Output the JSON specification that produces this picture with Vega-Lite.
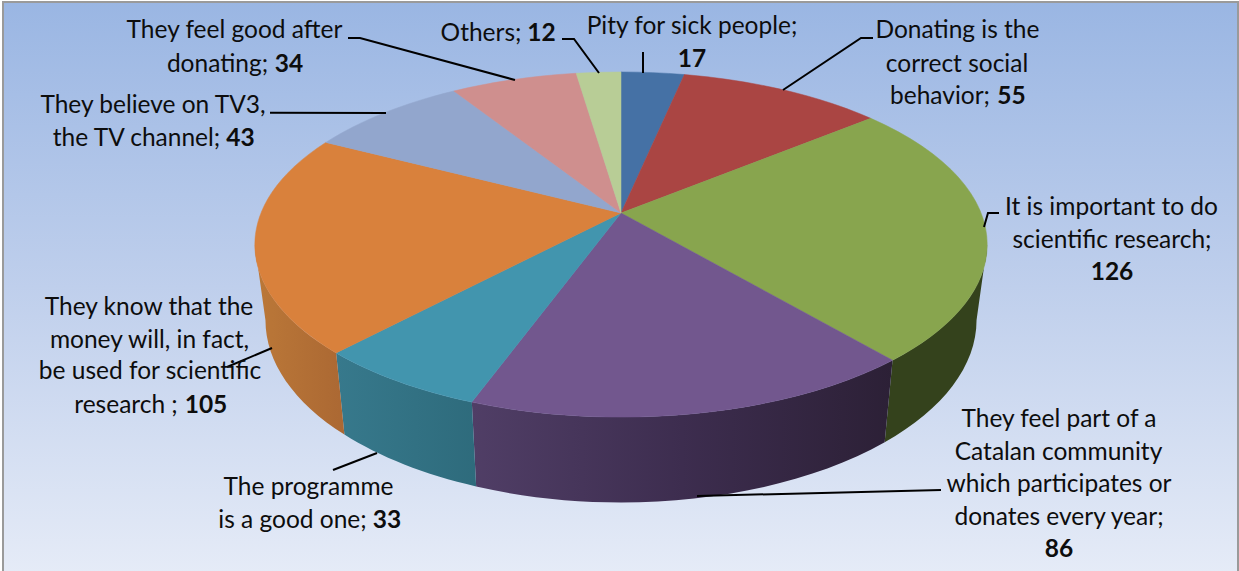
{
  "$schema": "https://vega.github.io/schema/vega-lite/v6.json",
  "width": 1235,
  "height": 570,
  "padding": {"left": 3, "top": 2, "right": 1, "bottom": 0},
  "autosize": {"type": "none"},
  "background": "white",
  "view": {
    "fill": {"gradient": "linear", "x1": 0, "y1": 0, "x2": 0, "y2": 1, "stops": [
      {"offset": 0, "color": "#9ab6e3"},
      {"offset": 0.5, "color": "#bfcfec"},
      {"offset": 1, "color": "#e5ebf7"}
    ]},
    "stroke": "#9a9a9a",
    "strokeWidth": 2
  },
  "datasets": {
    "slices": [
      {"label": "Pity for sick people", "order": 1, "value": 17},
      {"label": "Donating is the correct social behavior", "order": 2, "value": 55},
      {"label": "It is important to do scientific research", "order": 3, "value": 126},
      {"label": "They feel part of a Catalan community", "order": 4, "value": 86},
      {"label": "The programme is a good one", "order": 5, "value": 33},
      {"label": "They know that the money will be used for research", "order": 6, "value": 105},
      {"label": "They believe on TV3, the TV channel", "order": 7, "value": 43},
      {"label": "They feel good after donating", "order": 8, "value": 34},
      {"label": "Others", "order": 9, "value": 12}
    ],
    "leaders": [
      {"id": "good", "step": 1, "x": -273, "y": 175}, {"id": "good", "step": 2, "x": -261, "y": 175}, {"id": "good", "step": 3, "x": -106, "y": 133},
      {"id": "tv3", "step": 1, "x": -351, "y": 100.3}, {"id": "tv3", "step": 2, "x": -235, "y": 100},
      {"id": "others", "step": 1, "x": -59, "y": 174}, {"id": "others", "step": 2, "x": -47, "y": 174}, {"id": "others", "step": 3, "x": -22, "y": 140},
      {"id": "pity", "step": 1, "x": 22, "y": 161}, {"id": "pity", "step": 2, "x": 22, "y": 140},
      {"id": "donating", "step": 1, "x": 252, "y": 175}, {"id": "donating", "step": 2, "x": 240, "y": 175}, {"id": "donating", "step": 3, "x": 162, "y": 123},
      {"id": "research", "step": 1, "x": 378, "y": 0}, {"id": "research", "step": 2, "x": 367, "y": 0}, {"id": "research", "step": 3, "x": 363, "y": -14},
      {"id": "catalan", "step": 1, "x": 320, "y": -277}, {"id": "catalan", "step": 2, "x": 76, "y": -283},
      {"id": "programme", "step": 1, "x": -288, "y": -257}, {"id": "programme", "step": 2, "x": -244, "y": -240},
      {"id": "money", "step": 1, "x": -349, "y": -135}, {"id": "money", "step": 2, "x": -394, "y": -154}
    ],
    "captions": [
      {"t": "They feel good after", "x": -386.5, "y": 175, "bold": false},
      {"t": "donating;", "x": -403.5, "y": 141.5, "bold": false},
      {"t": "34", "x": -332, "y": 141.5, "bold": true},
      {"t": "They believe on TV3,", "x": -468, "y": 100, "bold": false},
      {"t": "the TV channel;", "x": -484.5, "y": 67.5, "bold": false},
      {"t": "43", "x": -380.5, "y": 67.5, "bold": true},
      {"t": "Others;", "x": -140, "y": 172, "bold": false},
      {"t": "12", "x": -79.5, "y": 172, "bold": true},
      {"t": "Pity for sick people;", "x": 71, "y": 179, "bold": false},
      {"t": "17", "x": 71, "y": 146, "bold": true},
      {"t": "Donating is the", "x": 336.5, "y": 175, "bold": false},
      {"t": "correct social", "x": 336, "y": 141, "bold": false},
      {"t": "behavior;", "x": 319, "y": 109, "bold": false},
      {"t": "55", "x": 390.5, "y": 109, "bold": true},
      {"t": "It is important to do", "x": 490.5, "y": -2, "bold": false},
      {"t": "scientific research;", "x": 491, "y": -35, "bold": false},
      {"t": "126", "x": 491, "y": -67, "bold": true},
      {"t": "They know that the", "x": -472, "y": -102, "bold": false},
      {"t": "money will, in fact,", "x": -471.5, "y": -135, "bold": false},
      {"t": "be used for scientific", "x": -471, "y": -166, "bold": false},
      {"t": "research ;", "x": -495, "y": -200, "bold": false},
      {"t": "105", "x": -415, "y": -200, "bold": true},
      {"t": "The programme", "x": -312.5, "y": -282, "bold": false},
      {"t": "is a good one;", "x": -328.5, "y": -315, "bold": false},
      {"t": "33", "x": -234, "y": -315, "bold": true},
      {"t": "They feel part of a", "x": 438, "y": -214, "bold": false},
      {"t": "Catalan community", "x": 437.5, "y": -247, "bold": false},
      {"t": "which participates or", "x": 438, "y": -279, "bold": false},
      {"t": "donates every year;", "x": 438, "y": -312, "bold": false},
      {"t": "86", "x": 438, "y": -344, "bold": true}
    ]
  },
  "layer": [
    {
      "data": {"name": "slices"},
      "transform": [
        {"stack": "value", "sort": [{"field": "order", "order": "ascending"}], "groupby": [], "as": ["v0", "v1"]},
        {"joinaggregate": [{"op": "sum", "field": "value", "as": "total"}]},
        {"calculate": "2 * PI * datum.v0 / datum.total", "as": "a0"},
        {"calculate": "2 * PI * datum.v1 / datum.total", "as": "a1"},
        {"calculate": "round(100 * 360 * sin(datum.a0) / (1 + 0.1826 * cos(datum.a0))) / 100", "as": "tx0"},
        {"calculate": "round(100 * -166.8 * cos(datum.a0) / (1 + 0.1826 * cos(datum.a0))) / 100", "as": "ty0"},
        {"calculate": "round(100 * 360 * sin(datum.a1) / (1 + 0.1826 * cos(datum.a1))) / 100", "as": "tx1"},
        {"calculate": "round(100 * -166.8 * cos(datum.a1) / (1 + 0.1826 * cos(datum.a1))) / 100", "as": "ty1"},
        {"calculate": "'M0,0L' + datum.tx0 + ',' + datum.ty0 + 'A366,172.5 0 0 1 ' + datum.tx1 + ',' + datum.ty1 + 'Z'", "as": "topPath"},
        {"calculate": "max(datum.a0, 1.7544)", "as": "c0"},
        {"calculate": "min(datum.a1, 4.5288)", "as": "c1"},
        {"calculate": "360 * sin(datum.c0) / (1 + 0.1826 * cos(datum.c0))", "as": "wx0"},
        {"calculate": "-166.8 * cos(datum.c0) / (1 + 0.1826 * cos(datum.c0))", "as": "wy0"},
        {"calculate": "360 * sin(datum.c1) / (1 + 0.1826 * cos(datum.c1))", "as": "wx1"},
        {"calculate": "-166.8 * cos(datum.c1) / (1 + 0.1826 * cos(datum.c1))", "as": "wy1"},
        {"calculate": "'M' + round(datum.wx0 * 100) / 100 + ',' + round(datum.wy0 * 100) / 100 + 'A366,172.5 0 0 1 ' + round(datum.wx1 * 100) / 100 + ',' + round(datum.wy1 * 100) / 100 + 'L' + round(97.1 * datum.wx1) / 100 + ',' + round(105.5 * datum.wy1 + 7400) / 100 + 'A355,182 0 0 0 ' + round(97.1 * datum.wx0) / 100 + ',' + round(105.5 * datum.wy0 + 7400) / 100 + 'Z'", "as": "wallPath"}
      ],
      "encoding": {
        "x": {"datum": 0, "type": "quantitative", "scale": {"domain": [-618, 617]}, "axis": null},
        "y": {"datum": 0, "type": "quantitative", "scale": {"domain": [-359, 211]}, "axis": null}
      },
      "layer": [
        {
          "transform": [{"filter": "datum.order == 3"}],
          "mark": {"type": "point", "filled": true, "opacity": 1, "size": 4, "color": "#34421c"},
          "encoding": {"shape": {"field": "wallPath", "type": "nominal", "scale": null, "legend": null}}
        },
        {
          "transform": [{"filter": "datum.order == 4"}],
          "mark": {"type": "point", "filled": true, "opacity": 1, "size": 4, "color": {"gradient": "linear", "x1": 0, "y1": 0, "x2": 1, "y2": 0, "stops": [{"offset": 0, "color": "#503e66"}, {"offset": 0.5, "color": "#3d2d4f"}, {"offset": 1, "color": "#2c2036"}]}},
          "encoding": {"shape": {"field": "wallPath", "type": "nominal", "scale": null, "legend": null}}
        },
        {
          "transform": [{"filter": "datum.order == 5"}],
          "mark": {"type": "point", "filled": true, "opacity": 1, "size": 4, "color": {"gradient": "linear", "x1": 0, "y1": 0, "x2": 1, "y2": 0, "stops": [{"offset": 0, "color": "#37798c"}, {"offset": 1, "color": "#2e6b7c"}]}},
          "encoding": {"shape": {"field": "wallPath", "type": "nominal", "scale": null, "legend": null}}
        },
        {
          "transform": [{"filter": "datum.order == 6"}],
          "mark": {"type": "point", "filled": true, "opacity": 1, "size": 4, "color": {"gradient": "linear", "x1": 0, "y1": 0, "x2": 1, "y2": 0, "stops": [{"offset": 0, "color": "#bb7838"}, {"offset": 1, "color": "#ab6833"}]}},
          "encoding": {"shape": {"field": "wallPath", "type": "nominal", "scale": null, "legend": null}}
        },
        {
          "mark": {"type": "point", "filled": true, "opacity": 1, "size": 4, "strokeWidth": 0.5},
          "encoding": {
            "shape": {"field": "topPath", "type": "nominal", "scale": null, "legend": null},
            "color": {"field": "order", "type": "nominal", "legend": null, "scale": {"domain": [1, 2, 3, 4, 5, 6, 7, 8, 9], "range": ["#4571a5", "#aa4543", "#88a54e", "#72578e", "#4295ae", "#d9813c", "#92a6cd", "#cf8f8e", "#b8cd96"]}},
            "stroke": {"field": "order", "type": "nominal", "legend": null, "scale": {"domain": [1, 2, 3, 4, 5, 6, 7, 8, 9], "range": ["#4571a5", "#aa4543", "#88a54e", "#72578e", "#4295ae", "#d9813c", "#92a6cd", "#cf8f8e", "#b8cd96"]}}
          }
        }
      ]
    },
    {
      "data": {"name": "leaders"},
      "mark": {"type": "line", "color": "#000000", "strokeWidth": 2},
      "encoding": {
        "x": {"field": "x", "type": "quantitative", "scale": {"domain": [-618, 617]}, "axis": null},
        "y": {"field": "y", "type": "quantitative", "scale": {"domain": [-359, 211]}, "axis": null},
        "detail": {"field": "id"},
        "order": {"field": "step", "type": "ordinal"}
      }
    },
    {
      "data": {"name": "captions"},
      "transform": [{"filter": "!datum.bold"}],
      "mark": {"type": "text", "font": "Lato", "fontSize": 24.5, "align": "center", "baseline": "alphabetic", "color": "#0d0d0d"},
      "encoding": {
        "x": {"field": "x", "type": "quantitative", "scale": {"domain": [-618, 617]}, "axis": null},
        "y": {"field": "y", "type": "quantitative", "scale": {"domain": [-359, 211]}, "axis": null},
        "text": {"field": "t"}
      }
    },
    {
      "data": {"name": "captions"},
      "transform": [{"filter": "datum.bold"}],
      "mark": {"type": "text", "font": "Lato", "fontSize": 24.5, "fontWeight": "bold", "align": "center", "baseline": "alphabetic", "color": "#0d0d0d"},
      "encoding": {
        "x": {"field": "x", "type": "quantitative", "scale": {"domain": [-618, 617]}, "axis": null},
        "y": {"field": "y", "type": "quantitative", "scale": {"domain": [-359, 211]}, "axis": null},
        "text": {"field": "t"}
      }
    }
  ]
}
